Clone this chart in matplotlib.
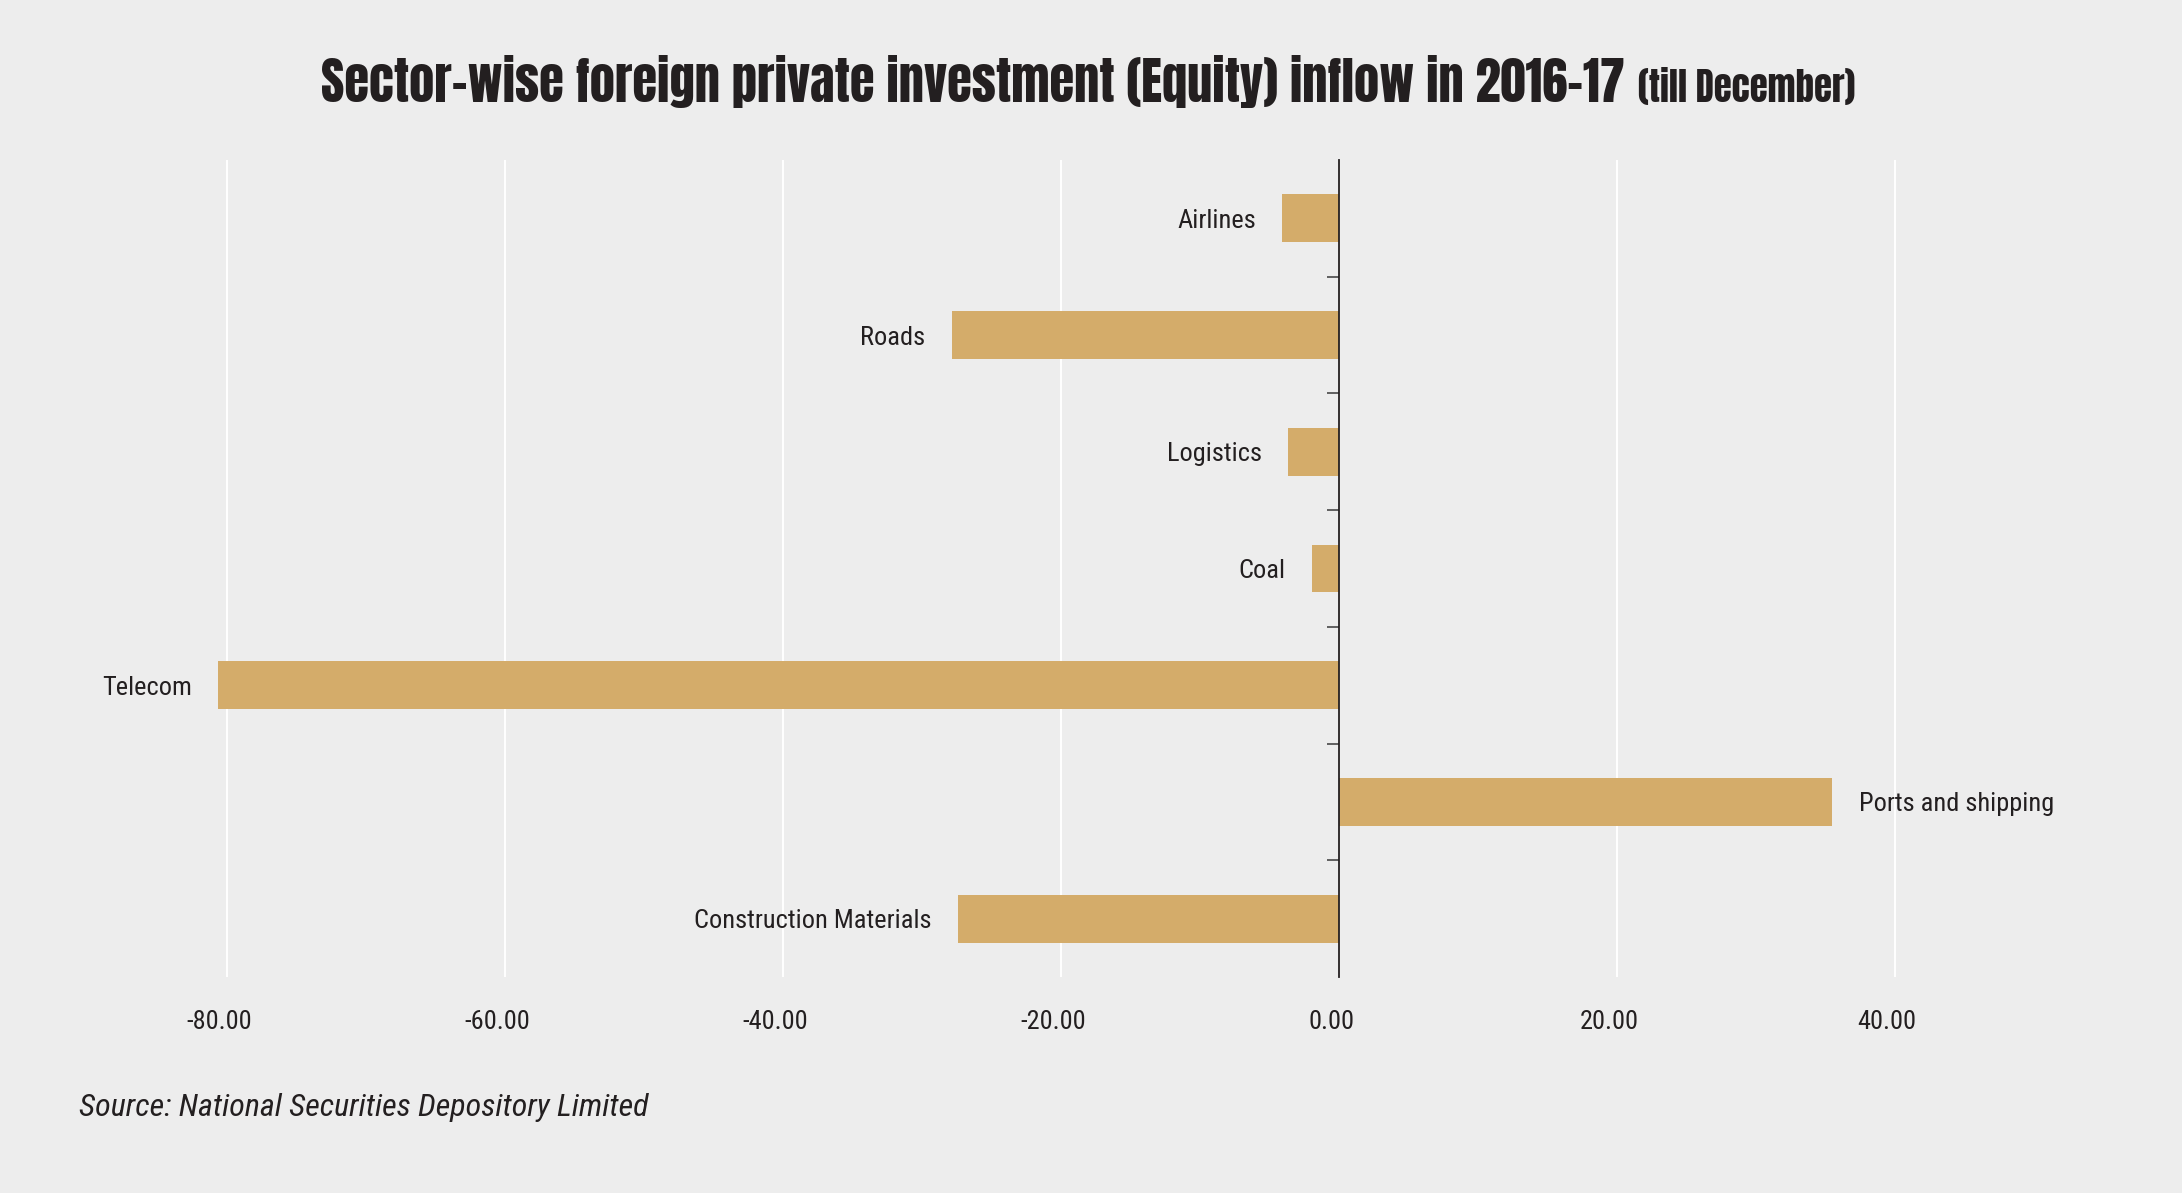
import numpy as np
import matplotlib.pyplot as plt
from matplotlib.transforms import ScaledTranslation
from matplotlib.ticker import FixedLocator, FuncFormatter

# FPI equity inflow by sector, 2016-17 (till December)
sectors = ['Airlines', 'Roads', 'Logistics', 'Coal', 'Telecom',
           'Ports and shipping', 'Construction Materials']
inflow = [-4.10, -27.87, -3.67, -1.94, -80.65, 35.50, -27.44]
x_ticks = [-80, -60, -40, -20, 0, 20, 40]

bg = '#ededed'
bar_col = '#d4ac6a'
txt = '#231f20'
head_font = ['Anton', 'Oswald', 'Bebas Neue', 'Liberation Sans']
body_font = ['Roboto Condensed', 'Archivo Narrow', 'PT Sans Narrow', 'Liberation Sans']

plt.rcParams['font.family'] = body_font

fig = plt.figure(figsize=(21.82, 11.93), dpi=100, facecolor=bg)
ax = fig.add_axes([0.0405, 0.1811, 0.9362, 0.6848], facecolor=bg)

y = np.arange(len(sectors))
ax.barh(y, inflow, height=0.41, color=bar_col, zorder=2)

ax.set_xlim(-90, 57)
ax.set_ylim(len(sectors) - 0.5, -0.5)

# sector name sits just beyond the end of its bar
for yi, v, name in zip(y, inflow, sectors):
    off = -19 if v < 0 else 19
    ax.annotate(name, (v, yi), xytext=(off, 0), textcoords='offset points',
                ha='right' if v < 0 else 'left', va='center_baseline',
                fontsize=19, color=txt, zorder=3)

ax.xaxis.set_major_locator(FixedLocator(x_ticks))
ax.xaxis.set_major_formatter(FuncFormatter(lambda v, p: f'{v:.2f}'))
ax.tick_params(axis='x', length=0, pad=24, labelsize=19, labelcolor=txt)
ax.grid(axis='x', color='white', linewidth=1.4, zorder=0)
shift = ScaledTranslation(-8 / 100, 0, fig.dpi_scale_trans)
for lab in ax.get_xticklabels():
    lab.set_transform(lab.get_transform() + shift)

ax.yaxis.set_major_locator(FixedLocator(y[:-1] + 0.5))
ax.yaxis.set_major_formatter(FuncFormatter(lambda v, p: ''))
ax.tick_params(axis='y', length=9, width=1.3, color='#555555', direction='out')

for s in ['top', 'right', 'bottom']:
    ax.spines[s].set_visible(False)
ax.spines['left'].set_position(('data', 0))
ax.spines['left'].set_color(txt)
ax.spines['left'].set_linewidth(1.3)
ax.spines['left'].set_zorder(3)

fig.text(1625 / 2182, 1 - 102 / 1193,
         'Sector-wise foreign private investment (Equity) inflow in 2016-17',
         ha='right', va='baseline', fontsize=36.4, family=head_font, color=txt)
fig.text(1638 / 2182, 1 - 102 / 1193, '(till December)',
         ha='left', va='baseline', fontsize=26.5, family=head_font, color=txt)

fig.text(79 / 2182, 1 - 1107 / 1193, 'Source: National Securities Depository Limited',
         ha='left', va='center', fontsize=23, style='italic', color=txt)

fig.savefig('out.png', dpi=100, facecolor=bg)
